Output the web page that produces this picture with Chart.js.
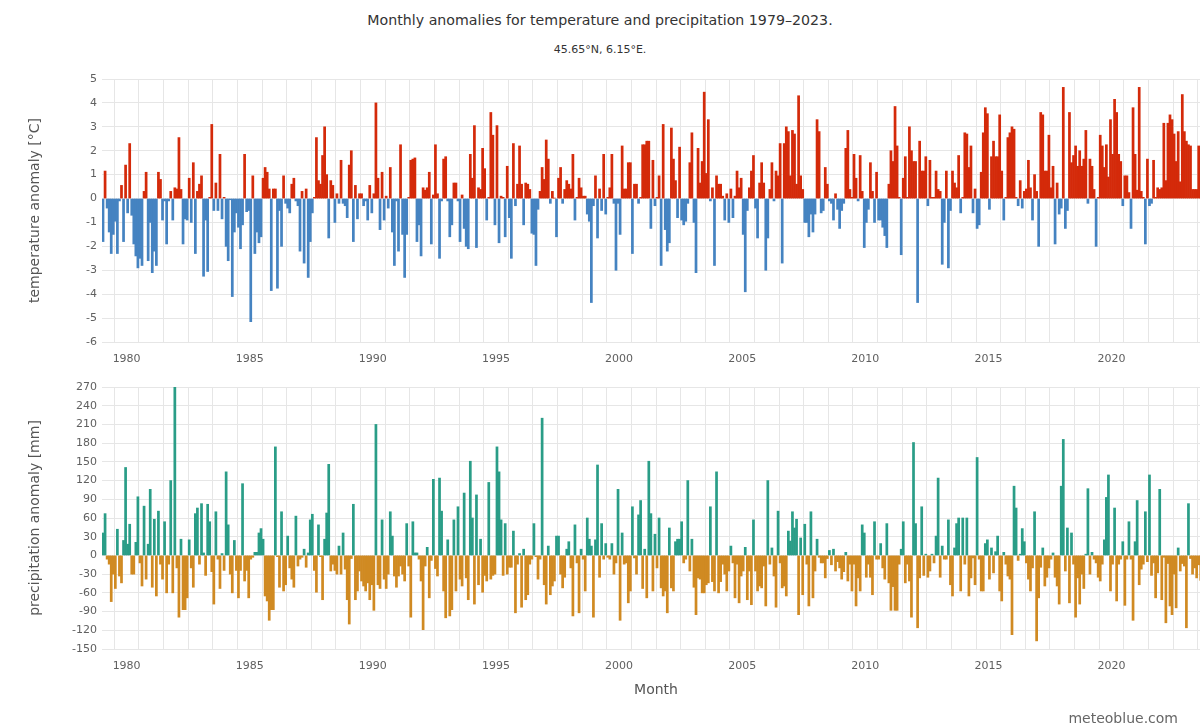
<!DOCTYPE html>
<html>
<head>
<meta charset="utf-8">
<script src="https://cdn.jsdelivr.net/npm/chart.js@4.4.1/dist/chart.umd.min.js"></script>
<style>
  html, body { margin: 0; padding: 0; background: #fff; overflow: hidden; width: 1200px; height: 727px; }
  #wrap { position: relative; width: 1210px; height: 727px; overflow: hidden; }
  .cbox { position: absolute; left: 0; width: 1210px; }
  #tempBox { top: 0; height: 375px; }
  #precBox { top: 375px; height: 352px; }
  .ttl { position: absolute; left: 0; width: 1200px; text-align: center; font-family: 'DejaVu Sans', sans-serif; color: #333; }
  #credit { position: absolute; left: 0; width: 1178px; text-align: right; top: 709px; font-family: 'DejaVu Sans', sans-serif; font-size: 14px; color: #666; line-height: 18px; }
</style>
</head>
<body>
<div id="wrap">
  <div class="ttl" style="top:11px;font-size:14.2px;line-height:18px">Monthly anomalies for temperature and precipitation 1979–2023.</div>
  <div class="ttl" style="top:43px;font-size:11px;line-height:14px">45.65°N, 6.15°E.</div>
  <div class="cbox" id="tempBox"><canvas id="tempChart" width="1210" height="375"></canvas></div>
  <div class="cbox" id="precBox"><canvas id="precChart" width="1210" height="352"></canvas></div>
  <div id="credit">meteoblue.com</div>
</div>
<script>
// ---- categories ----
const START_YEAR = 1979;
const END_YEAR = 2023;
const yearTickLabels = [1980, 1985, 1990, 1995, 2000, 2005, 2010, 2015, 2020];

// ---- temperature anomaly [°C], one row per year (Jan..Dec) ----
const temperature = [
  -1.8, 1.15, -0.4, -1.4, -2.3, -1.5, -0.95, -2.3, -0.1, 0.55, -1.8, 1.4,
  -0.6, 2.3, -0.7, -1.9, -2.4, -2.9, -2.5, -2.8, 0.3, 1.1, -2.6, -1.0,
  -3.1, -2.2, -2.8, 1.1, 0.8, -0.9, -0.1, -1.9, -0.1, 0.3, -0.9, 0.45,
  0.4, 2.55, 0.38, -1.9, -0.85, -0.9, 0.85, -1.0, 1.5, -2.3, 0.3, 0.6,
  0.95, -3.25, -0.9, -3.05, 0.05, 3.1, -0.5, 0.65, -0.5, 1.85, -0.85, 0.05,
  -2.0, -2.6, -0.05, -4.1, -1.4, -0.6, -1.2, -2.1, -1.1, 1.85, -0.55, -0.5,
  -5.15, 0.95, -2.3, -1.4, -1.85, -1.6, 0.85, 1.3, 1.1, 0.4, -3.85, 0.4,
  0.4, -3.75, -0.5, -2.0, 0.95, -0.2, -0.4, -0.6, 0.6, 0.85, -0.1, -0.3,
  -2.2, 0.3, -2.7, 0.4, -3.3, -1.8, -0.6, 0.05, 2.55, 0.75, 0.6, 1.8,
  3.0, 1.0, -1.65, 0.75, 0.55, -1.0, 0.2, -0.2, 1.6, -0.2, -0.3, -0.8,
  1.4, 2.0, -1.8, 0.55, -0.85, 0.2, 0.2, -0.3, -0.1, -0.9, 0.55, -0.6,
  0.2, 4.0, 0.85, -1.3, 1.1, -0.9, 0.1, -0.4, 1.3, -1.4, -2.8, -0.1,
  -2.2, 2.25, -1.5, -3.3, -1.5, 0.05, 1.6, 1.65, 1.7, -1.8, -1.1, -2.4,
  0.45, 0.35, 0.45, 1.1, -1.9, 0.15, 2.25, 0.2, -2.5, -0.1, 1.65, 1.75,
  -0.1, -1.6, -1.1, 0.65, 0.65, -0.1, -1.8, 0.15, -1.25, -2.0, -2.1, 1.85,
  0.85, 3.05, -2.05, 0.45, 0.38, 2.1, 1.25, -0.9, 0.05, 3.6, 2.65, -1.1,
  3.05, -1.85, 0.1, 0.05, -1.6, 1.35, -0.8, -2.5, 2.3, -0.3, 0.6, 2.2,
  0.6, -1.1, 0.65, 0.6, 0.38, -1.45, -1.5, -2.8, -0.45, 0.3, 1.3, 0.8,
  2.45, 1.65, -0.2, 0.3, 0.02, -1.6, 0.85, 1.3, -0.2, 0.38, 0.75, 0.6,
  0.4, 1.85, -0.9, 0.05, 0.85, 0.45, 0.1, 0.1, -0.65, -0.95, -4.35, -0.3,
  0.95, -1.65, 0.4, -0.5, 1.85, -0.65, 0.05, 0.45, 1.85, -0.2, -3.0, -0.2,
  -1.5, 2.2, 0.4, 0.4, 1.5, 1.5, -2.3, 0.6, 0.6, -0.2, 0.05, 2.25,
  2.25, 2.4, 2.4, -1.25, 1.6, -0.3, 0.05, 0.95, -2.8, 3.1, -1.3, -2.2,
  -1.85, 2.95, 1.65, 0.75, -0.8, 2.15, -0.9, -1.1, -0.95, -0.2, 1.5, 2.75,
  -1.0, -3.1, 2.1, 0.65, 1.55, 4.45, 1.05, 3.3, -0.1, 0.45, -2.8, 0.95,
  0.6, 0.6, 0.1, -0.9, 0.2, -1.0, 0.4, -0.8, 0.1, 1.15, 0.45, 0.85,
  -1.5, -3.9, -0.5, 0.45, 1.15, 1.8, -0.4, -1.65, 0.65, 1.5, 0.65, -3.0,
  -1.65, 0.38, 1.5, -0.1, 1.15, 0.95, 2.3, -2.7, 2.3, 3.0, 2.8, 0.95,
  2.85, 2.7, 0.6, 4.3, 0.95, 0.38, -1.0, -1.0, -1.6, -0.65, -1.4, -0.65,
  3.3, 2.8, -0.6, -0.5, 1.3, 0.6, -0.1, -0.2, -0.9, 0.2, -0.45, -1.25,
  -0.5, -0.2, 2.1, 2.85, 0.38, 0.05, 1.85, 0.85, -0.1, 1.8, 0.3, -2.05,
  -1.0, -0.45, 1.5, 0.3, -1.0, 1.1, -0.9, -0.9, -1.2, -1.55, -2.05, 0.6,
  2.0, 1.55, 3.85, 2.2, 0.05, -2.35, 0.85, 1.75, 0.05, 3.0, 2.0, 1.55,
  1.55, -4.35, 2.4, 1.15, 1.15, 1.75, -0.3, 1.6, 0.05, 0.05, 1.15, 0.38,
  0.3, -2.75, -1.0, 1.15, -2.9, -0.5, 1.15, 0.65, 0.45, 1.8, -0.6, 0.05,
  2.75, 2.7, 1.3, 2.2, -0.6, 0.4, -1.25, -1.1, 1.1, 2.75, 3.8, 3.55,
  -0.45, 1.75, 2.4, 1.75, 1.75, 3.5, 1.15, -0.9, 0.05, 2.55, 2.75, 3.0,
  2.9, 0.05, -0.3, 0.75, -0.4, 0.3, 0.4, 1.6, 0.45, -0.9, 1.0, 0.3,
  -2.0, 3.6, 3.5, 1.15, 1.15, 2.65, 0.45, 1.35, -1.9, 0.65, -0.65, -0.4,
  4.65, -1.25, -0.5, 3.6, 1.5, 1.8, 2.2, 1.35, 2.0, 1.35, 1.65, 2.85,
  -0.2, 1.65, 1.35, 0.38, -2.0, 0.05, 2.65, 2.2, 1.3, 2.25, 0.9, 3.3,
  1.85, 4.15, 3.6, 1.85, 1.55, -0.3, 0.95, 0.95, 0.25, -1.25, 3.8, 1.85,
  0.35, 4.65, 0.3, 0.05, -1.9, 1.65, -0.3, -0.2, 1.6, 0.05, 0.45, 0.38,
  0.45, 3.15, 0.75, 3.15, 3.5, 3.3, 2.7, 1.55, 2.8, 0.7, 4.35, 2.8,
  2.4, 2.25, 2.2, 0.38, 0.38, 0.38, 2.2, 1.85, 3.1, 2.0, 1.2, 1.6
];

// ---- precipitation anomaly [mm], one row per year (Jan..Dec) ----
const precipitation = [
  36, 67, -6, -14, -74, -30, -53, 42, -33, -44, 24, 141,
  18, 50, -30, -30, 21, 94, -12, -49, 79, -38, 18, 106,
  -51, 58, -65, 71, -14, -38, 54, -60, -14, 120, -60, 273,
  -20, -99, 26, -87, -87, -68, 25, -20, -51, 67, 76, -14,
  83, 4, -32, 82, 54, -26, -78, 70, -6, -53, 3, -24,
  134, 49, -30, -60, 24, -24, -68, -24, 115, -41, -24, -68,
  -6, -3, 5, 5, 36, 43, 26, -65, -73, -104, -87, -87,
  174, -2, -51, 70, -57, -47, 31, -20, -38, -51, 63, -17,
  -6, -3, 10, -19, 4, 57, 66, -24, -59, 49, -2, -71,
  26, 68, 146, -25, -14, -24, -30, 15, -30, 36, -22, -71,
  -110, -5, 82, -71, -57, -25, -41, -49, -57, -44, -71, -47,
  -88, 210, -47, -53, 57, -38, -53, -30, 70, 31, -33, -51,
  -33, -17, -30, -41, 51, -17, -99, 54, 4, 4, -6, -41,
  -119, -17, 13, -68, -8, 122, -21, -33, 124, 71, -57, -100,
  25, -97, -87, 57, -57, 78, -38, -49, 100, -36, -71, 151,
  60, -78, 97, -47, 26, -59, -32, -41, 117, -38, -32, -30,
  174, 134, 57, -32, 51, -30, -19, -19, 39, -92, -14, 3,
  -83, 10, -71, -63, -14, -6, 51, -2, -38, -6, 220, -47,
  -78, 15, -63, -49, -41, 31, 31, -30, -52, -35, 10, 22,
  -20, -97, 49, -12, -92, 10, -6, -57, 60, 26, 15, -99,
  25, 145, -35, 51, -6, 19, -3, -6, 19, -30, -12, 106,
  -104, 36, -14, -12, -76, -57, 78, -4, -30, 65, 88, -53,
  10, -68, 151, 67, -57, 34, -20, 60, -52, -65, -57, -92,
  44, -52, -57, 22, 26, 26, 54, -12, -6, 120, -25, 26,
  -51, -95, -36, -38, -60, -60, -47, -44, 78, -42, -57, 134,
  -60, -42, -14, -30, -57, -25, 15, -12, -68, -14, -76, -33,
  -25, 13, -71, -25, -79, 57, -25, -57, -49, -52, -17, -81,
  120, -14, 12, -33, -83, 71, -12, -52, -49, -65, 39, 23,
  70, 44, 58, -95, 28, -63, 50, -14, -81, 70, -68, -25,
  26, -3, -12, -12, -36, -5, 8, -15, 10, -25, -10, -20,
  -38, -26, 5, -41, -14, -57, -14, -81, -36, -57, 49, 36,
  -35, -14, -35, -63, 54, -6, -6, 19, -20, -38, 51, -44,
  -88, -50, -88, -88, -14, 10, 54, -44, -14, -41, -99, 181,
  51, -116, -36, 78, -32, 2, -35, -25, 2, -12, 31, 124,
  -35, 15, -6, -6, 57, -47, -65, 12, 51, 60, -57, 60,
  -14, 60, -65, -36, -4, -47, 157, -6, -57, -57, 19, 25,
  -38, 12, -28, 6, 31, -57, -73, 5, -14, -33, -38, -127,
  111, 76, -8, 2, 43, 22, -12, -38, -57, -20, 70, -137,
  -68, -19, 12, -49, -35, -20, -6, 4, -35, -49, -78, 111,
  186, -25, 44, -76, 36, -14, -99, -36, -78, -30, -53, 2,
  107, -30, 5, -6, -12, -35, -41, -14, 25, 93, 129, -57,
  -14, 76, -73, -14, -6, 22, -80, -6, 54, -6, -104, 22,
  88, -47, -22, -14, 70, -10, 129, -32, -12, -68, -28, 106,
  -71, -3, -108, -13, -81, -95, -30, -84, 12, -25, -13, -17,
  -116, 83, -5, -30, -20, -36, -15, -40, -60, 40, -30, 20
];

// ---- styles ----
const FONT = "'DejaVu Sans', sans-serif";
const GRID = '#e6e6e6';
const TICK_COLOR = '#606060';
const TITLE_COLOR = '#555555';
const C_WARM = '#d42a0a';
const C_COLD = '#4583c1';
const C_WET = '#2a9d87';
const C_DRY = '#d08a22';

// month position on the time axis (middle of each month)
function monthTime(i) { return START_YEAR + (i + 0.5) / 12; }
function toPoints(arr) { return arr.map((v, i) => ({ x: monthTime(i), y: v })); }

function makeChart(id, values, posColor, negColor, yCfg, xCfg, padTop) {
  return new Chart(document.getElementById(id), {
    type: 'bar',
    data: {
      datasets: [{
        data: toPoints(values),
        backgroundColor: ctx => (ctx.raw && ctx.raw.y >= 0 ? posColor : negColor),
        borderWidth: 0,
        barPercentage: 1,
        categoryPercentage: 1
      }]
    },
    options: {
      responsive: false,
      maintainAspectRatio: false,
      animation: false,
      devicePixelRatio: 1,
      layout: { padding: { top: padTop, right: 0, bottom: 0, left: 0 } },
      plugins: { legend: { display: false }, tooltip: { enabled: false } },
      scales: {
        x: {
          type: 'linear',
          min: START_YEAR,
          max: END_YEAR + 1,
          offset: false,
          grid: { color: GRID, drawTicks: true, tickLength: 11, tickColor: 'rgba(0,0,0,0)', lineWidth: 1 },
          border: { display: false },
          ticks: {
            stepSize: 1,
            autoSkip: false,
            maxRotation: 0,
            padding: 0,
            color: TICK_COLOR,
            font: { family: FONT, size: 11 },
            callback: v => (yearTickLabels.includes(v) ? String(v) : '')
          },
          title: xCfg.title,
          afterFit: s => { s.height = xCfg.height; }
        },
        y: {
          min: yCfg.min,
          max: yCfg.max,
          grid: { color: GRID, drawTicks: false, lineWidth: 1 },
          border: { display: false },
          ticks: {
            stepSize: yCfg.step,
            padding: 5,
            color: TICK_COLOR,
            font: { family: FONT, size: 11 }
          },
          title: {
            display: true,
            text: yCfg.title,
            color: TITLE_COLOR,
            font: { family: FONT, size: 14 },
            padding: { top: 27, bottom: 0 }
          },
          afterFit: s => { s.width = 102; }
        }
      }
    }
  });
}

makeChart('tempChart', temperature, C_WARM, C_COLD,
  { min: -6, max: 5, step: 1, title: 'temperature anomaly [°C]' },
  { height: 33, title: { display: false } }, 79);

makeChart('precChart', precipitation, C_WET, C_DRY,
  { min: -150, max: 270, step: 30, title: 'precipitation anomaly [mm]' },
  { height: 78, title: { display: true, text: 'Month', color: TITLE_COLOR, font: { family: FONT, size: 14 }, padding: { top: 0, bottom: 28 } } }, 12);
</script>
</body>
</html>
